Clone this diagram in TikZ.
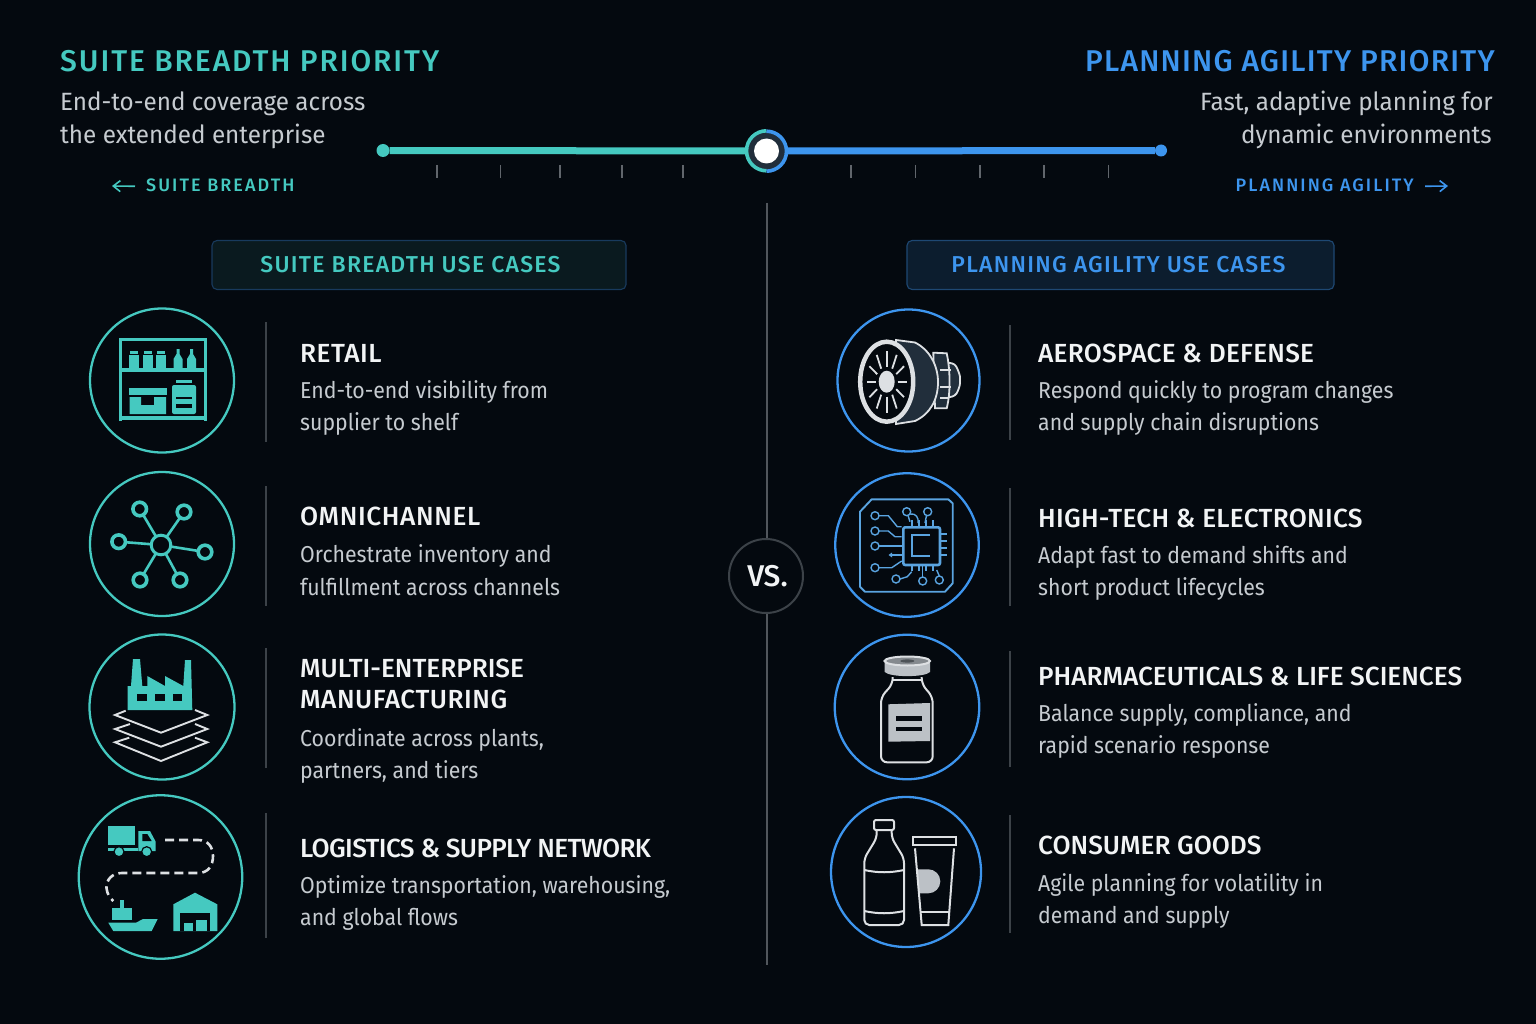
\documentclass[tikz,border=0pt]{standalone}
\usepackage{fontspec}
\setmainfont{Fira Sans}
\newfontfamily\headfont{Fira Sans Medium}
\newfontfamily\subfont[FakeStretch=0.97]{Fira Sans}
\newfontfamily\rowfont[FakeStretch=0.925]{Fira Sans}
\usetikzlibrary{arrows.meta}

\definecolor{bgdark}{HTML}{04090F}
\definecolor{tealc}{HTML}{45C9C0}
\definecolor{bluec}{HTML}{3D95EE}
\definecolor{chipblue}{HTML}{5AA4E0}
\definecolor{bodygrey}{HTML}{C6CBD0}
\definecolor{titlewhite}{HTML}{F2F4F5}
\definecolor{linegrey}{HTML}{3C4248}
\definecolor{divgrey}{HTML}{51565C}
\definecolor{tickgrey}{HTML}{61666C}
\definecolor{iconwhite}{HTML}{DDE0E3}
\definecolor{icongrey}{HTML}{BCC1C6}
\definecolor{enginedark}{HTML}{212E3B}

\tikzset{
    tealring/.style={draw=tealc, line width=2.3pt, circle, inner sep=0pt},
    bluering/.style={draw=bluec, line width=2.3pt, circle, inner sep=0pt},
    sepline/.style={draw=linegrey, line width=1.6pt},
    headline/.style={anchor=base west, inner sep=0pt, font=\headfont\fontsize{30}{36}\selectfont\addfontfeatures{LetterSpace=4.2}},
    subtext/.style={inner sep=0pt, text=bodygrey, font=\subfont\fontsize{25}{33}\selectfont},
    rowtitle/.style={anchor=base west, inner sep=0pt, text=titlewhite, font=\headfont\fontsize{26.2}{31}\selectfont},
    rowtext/.style={anchor=west, align=left, inner sep=0pt, text=bodygrey, font=\rowfont\fontsize{23}{32.5}\selectfont},
    smalllabel/.style={inner sep=0pt, font=\headfont\fontsize{18}{22}\selectfont\addfontfeatures{LetterSpace=11.5}},
    banner/.style={rounded corners=5pt, line width=1.1pt, minimum height=49pt, inner sep=0pt, font=\headfont\fontsize{23}{28}\selectfont\addfontfeatures{LetterSpace=5.5}},
    tickline/.style={draw=tickgrey, line width=1.5pt},
    enddot/.style={circle, inner sep=0pt, minimum size=13pt},
    pinline/.style={draw=chipblue, line width=1.4pt},
}

\begin{document}
\begin{tikzpicture}[x=1pt, y=-1pt]
    \useasboundingbox (0,0) rectangle (1536,1024);
    \fill[bgdark] (0,0) rectangle (1536,1024);

    % header left
    \node[headline, text=tealc] (lefthead) at (60,72) {\addfontfeatures{LetterSpace=6.4}SUITE BREADTH PRIORITY};
    \node[subtext, anchor=base west] (leftsub1) at (60,111) {End-to-end coverage across};
    \node[subtext, anchor=base west] (leftsub2) at (60,144) {the extended enterprise};
    \node[smalllabel, text=tealc, anchor=base west] (leftlabel) at (146,192) {SUITE BREADTH};
    \coordinate (lefttip) at (112,186);
    \draw[tealc, line width=1.6pt, -{Straight Barb[length=7pt,width=11pt]}] ([xshift=-11pt,yshift=-0.5pt]leftlabel.west) -- (lefttip);

    % header right
    \node[headline, text=bluec, anchor=base east] (righthead) at (1495,72) {PLANNING AGILITY PRIORITY};
    \node[subtext, anchor=base east] (rightsub1) at (1493,111) {Fast, adaptive planning for};
    \node[subtext, anchor=base east] (rightsub2) at (1492,144) {dynamic environments};
    \node[smalllabel, text=bluec, anchor=base east] (rightlabel) at (1414,192) {PLANNING AGILITY};
    \coordinate (righttip) at (1448,186);
    \draw[bluec, line width=1.6pt, -{Straight Barb[length=7pt,width=11pt]}] ([xshift=11pt,yshift=-0.5pt]rightlabel.east) -- (righttip);

    % slider
    \node[enddot, fill=tealc] (leftdot) at (383,150.5) {};
    \node[enddot, fill=bluec, minimum size=12pt] (rightdot) at (1161,150.5) {};
    \node[circle, fill=enginedark, inner sep=0pt, minimum size=40pt] (knob) at (766.5,151) {};
    \draw[tealc, line width=7pt] (leftdot) -- (knob);
    \draw[bluec, line width=7pt] (knob) -- (rightdot);
    \draw[tealc, line width=3.6pt] (knob.north) arc[start angle=90, end angle=270, radius=20pt];
    \draw[bluec, line width=3.6pt] (knob.south) arc[start angle=-90, end angle=90, radius=20pt];
    \fill[white] (knob) circle[radius=12.5pt];
    \foreach \tx in {437,500.5,560,622,683,851,915.5,980,1044,1108.5}
        \draw[tickline] (\tx,165) -- (\tx,178);

    % centre divider
    \node[circle, draw=linegrey, line width=2pt, minimum size=74pt, inner sep=0pt, text=titlewhite, font=\headfont\fontsize{30}{36}\selectfont] (vs) at (766,576) {\hspace{3pt}VS.};
    \coordinate (divtop) at (767,203);
    \coordinate (divbot) at (767,965);
    \draw[draw=divgrey, line width=2pt] (divtop) -- (divtop |- vs.north);
    \draw[draw=divgrey, line width=2pt] (divbot |- vs.south) -- (divbot);

    % banners
    \node[banner, draw=bluec!35!bgdark, fill=tealc!9!bgdark, text=tealc, minimum width=414pt] (leftbanner) at (419,265) {\raisebox{-1.5pt}{SUITE BREADTH USE CASES}\hspace{17pt}\null};
    \node[banner, draw=bluec!45!bgdark, fill=bluec!14!bgdark, text=bluec, minimum width=427pt] (rightbanner) at (1120.5,265) {\raisebox{-1.5pt}{PLANNING AGILITY USE CASES}\hspace{4pt}\null};

    % left rings
    \node[tealring, minimum size=144pt] (retail) at (162,380.5) {};
    \node[tealring, minimum size=144pt] (omni) at (162,544) {};
    \node[tealring, minimum size=145pt] (multi) at (162,707) {};
    \node[tealring, minimum size=163.5pt] (logistics) at (160.5,877) {};

    % right rings
    \node[bluering, minimum size=142pt] (aero) at (908.5,380.5) {};
    \node[bluering, minimum size=143.5pt] (hitech) at (907,545) {};
    \node[bluering, minimum size=144.5pt] (pharma) at (907,707) {};
    \node[bluering, minimum size=150pt] (consumer) at (906,872) {};

    % row separators
    \draw[sepline] (266,322) -- (266,442);
    \draw[sepline] (266,486) -- (266,606);
    \draw[sepline] (266,648) -- (266,768);
    \draw[sepline] (266,813) -- (266,938);
    \draw[sepline] (1010,325) -- (1010,440);
    \draw[sepline] (1010,488) -- (1010,606);
    \draw[sepline] (1010,651) -- (1010,767);
    \draw[sepline] (1010,815) -- (1010,933);

    % left rows
    \node[rowtitle] (retailhead) at (300,362) {\addfontfeatures{LetterSpace=2}RETAIL};
    \node[rowtext] (retailtext) at (300,408) {End-to-end visibility from\\supplier to shelf};
    \node[rowtitle] (omnihead) at (300,525) {\addfontfeatures{LetterSpace=2.4}OMNICHANNEL};
    \node[rowtext] (omnitext) at (300,570) {Orchestrate inventory and\\fulfillment across channels};
    \node[rowtitle] (multihead1) at (300,677) {MULTI-ENTERPRISE};
    \node[rowtitle] (multihead2) at (300,708) {\addfontfeatures{LetterSpace=2}MANUFACTURING};
    \node[rowtext] (multitext) at (300,756) {Coordinate across plants,\\partners, and tiers};
    \node[rowtitle] (logihead) at (300,857) {\addfontfeatures{LetterSpace=-2.5}LOGISTICS \& SUPPLY NETWORK};
    \node[rowtext] (logitext) at (300,903) {Optimize transportation, warehousing,\\and global flows};

    % right rows
    \node[rowtitle] (aerohead) at (1038,362) {\addfontfeatures{LetterSpace=1}AEROSPACE \& DEFENSE};
    \node[rowtext] (aerotext) at (1038,408) {Respond quickly to program changes\\and supply chain disruptions};
    \node[rowtitle] (hitechhead) at (1038,527) {\addfontfeatures{LetterSpace=1}HIGH-TECH \& ELECTRONICS};
    \node[rowtext] (hitechtext) at (1038,573) {Adapt fast to demand shifts and\\short product lifecycles};
    \node[rowtitle] (pharmahead) at (1038,685) {PHARMACEUTICALS \& LIFE SCIENCES};
    \node[rowtext] (pharmatext) at (1038,731) {Balance supply, compliance, and\\rapid scenario response};
    \node[rowtitle] (consumerhead) at (1038,854) {CONSUMER GOODS};
    \node[rowtext] (consumertext) at (1038,901) {Agile planning for volatility in\\demand and supply};

    % retail icon
    \draw[tealc, line width=3.2pt] (120.5,421) -- (120.5,339.5) -- (205.5,339.5) -- (205.5,421);
    \draw[tealc, line width=3.2pt] (120.5,370) -- (205.5,370);
    \draw[tealc, line width=3.2pt] (120.5,418) -- (205.5,418);
    \foreach \jx in {134,147.5,161} {
        \fill[tealc] (\jx-5,355) rectangle (\jx+5,369);
        \fill[tealc] (\jx-4,351) rectangle (\jx+4,354);
    }
    \foreach \bx in {178,191.5}
        \fill[tealc] (\bx-4.5,369) -- (\bx-4.5,359) -- (\bx-1.5,354) -- (\bx-1.5,349) -- (\bx+1.5,349) -- (\bx+1.5,354) -- (\bx+4.5,359) -- (\bx+4.5,369) -- cycle;
    \fill[tealc] (128.5,388) rectangle (167,395);
    \fill[tealc] (129.5,397) -- (141,397) -- (141,405) -- (154,405) -- (154,397) -- (166,397) -- (166,414) -- (129.5,414) -- cycle;
    \fill[tealc] (176,380) rectangle (192,383);
    \fill[tealc, rounded corners=2pt] (172,385) rectangle (196,414);
    \fill[bgdark] (176,397) rectangle (192,399);
    \fill[bgdark] (176,404) rectangle (192,407.5);

    % omnichannel icon
    \coordinate (hub) at (161,545);
    \foreach \sx/\sy in {139.7/509,184/512,118.7/541.7,205/552,140/580,180/580} {
        \draw[tealc, line width=2.6pt] (hub) -- (\sx,\sy);
        \filldraw[fill=bgdark, draw=tealc, line width=3.6pt] (\sx,\sy) circle[radius=6.8pt];
    }
    \filldraw[fill=bgdark, draw=tealc, line width=3pt] (hub) circle[radius=9.8pt];

    % manufacturing icon
    \fill[tealc] (127.7,710) -- (127.7,686) -- (131,686) -- (133,659) -- (140,659) -- (142.3,686) -- (147.3,686) -- (147.3,676) -- (165,686) -- (165,676) -- (183.3,686) -- (185,660) -- (191,660) -- (192.3,710) -- cycle;
    \fill[bgdark] (137.3,693.7) rectangle (146.7,701);
    \fill[bgdark] (155,693.7) rectangle (165,701);
    \fill[bgdark] (172.7,693.7) rectangle (182.3,701);
    \draw[iconwhite, line width=1.9pt] (125.7,710.7) -- (115,715) -- (161,732.7) -- (207.3,715) -- (195,710);
    \draw[iconwhite, line width=1.9pt] (130,724) -- (115,729) -- (161,746.7) -- (207.3,729) -- (195,724);
    \draw[iconwhite, line width=1.9pt] (129.3,737.7) -- (115,742.3) -- (161,761) -- (207.3,742.3) -- (195,737.7);

    % logistics icon
    \fill[tealc] (108.3,825.7) rectangle (135,845);
    \fill[tealc] (108.3,847.7) rectangle (138,851);
    \fill[tealc] (138.3,831) -- (150,831) -- (155.7,841.7) -- (155.7,851) -- (138.3,851) -- cycle;
    \fill[bgdark] (142.3,834) -- (147.3,834) -- (151.7,841) -- (142.3,841) -- cycle;
    \filldraw[fill=tealc, draw=bgdark, line width=1.2pt] (119,851.7) circle[radius=5pt];
    \filldraw[fill=tealc, draw=bgdark, line width=1.2pt] (146.7,851.7) circle[radius=5pt];
    \draw[iconwhite, line width=2.6pt, dash pattern=on 9pt off 5pt] (165,840) -- (198,840) .. controls (208,840) and (213,847) .. (213,856) .. controls (213,866) and (208,873) .. (198,873) -- (122,873) .. controls (112,873) and (106,880) .. (106.5,888) .. controls (107,894) and (110,898) .. (113.3,901);
    \fill[tealc] (120,900) rectangle (124,908);
    \fill[tealc] (112.3,908) rectangle (131.7,920);
    \fill[tealc] (108.3,922.7) -- (136,922.7) -- (143,919) -- (157.7,919) -- (151.7,931) -- (113.3,931) -- cycle;
    \fill[tealc] (173.3,931) -- (173.3,904.3) -- (195,892.7) -- (217.3,904.3) -- (217.3,931) -- cycle;
    \fill[bgdark] (180,913) rectangle (210,931);
    \fill[tealc] (184,922.7) rectangle (193.3,931);
    \fill[tealc] (196,920) rectangle (206.7,931);

    % engine icon
    \filldraw[fill=enginedark, draw=iconwhite, line width=1.8pt, rounded corners=3pt] (945,362) -- (955,364) .. controls (959,372) and (960,376) .. (960,380) .. controls (960,386) and (958,391) .. (955,396) -- (945,398) -- cycle;
    \filldraw[fill=enginedark, draw=iconwhite, line width=1.8pt] (933.3,352.7) -- (946.7,353.3) .. controls (950,368) and (951,392) .. (946.7,408.3) -- (935,408.3) -- cycle;
    \draw[iconwhite, line width=2pt] (940,370) -- (951,370);
    \draw[iconwhite, line width=2pt] (940,386.7) -- (951,386.7);
    \draw[iconwhite, line width=2pt] (940,397.7) -- (949,397.7);
    \filldraw[fill=enginedark, draw=iconwhite, line width=1.8pt] (896,340) -- (915,342.5) .. controls (930,350) and (938,366) .. (938,382) .. controls (938,400) and (930,414) .. (915,421) -- (896,424) -- cycle;
    \filldraw[fill=bgdark, draw=iconwhite, line width=4.5pt] (886.7,381.7) ellipse[x radius=26.5pt, y radius=40pt];
    \foreach \ang in {0,30,...,330}
        \draw[iconwhite, line width=1.8pt] ({886.7+11*cos(\ang)},{381.7+15*sin(\ang)}) -- ({886.7+20*cos(\ang)},{381.7+31*sin(\ang)});
    \fill[iconwhite] (886.7,381.7) ellipse[x radius=8pt, y radius=11pt];

    % chip icon
    \draw[chipblue, line width=1.9pt, line join=round] (871.7,499.3) -- (948.3,499.3) -- (952.7,503.3) -- (952.7,583.3) -- (945,591.7) -- (865,591.7) -- (860,586.7) -- (860,511.7) -- cycle;
    \draw[chipblue, line width=2.6pt, rounded corners=2pt] (903.3,527.3) rectangle (940,565);
    \draw[chipblue, line width=2pt] (930,535.3) -- (911.7,535.3) -- (911.7,556) -- (930,556);
    \foreach \px in {912,919,926,933} {
        \draw[pinline] (\px,520) -- (\px,527);
        \draw[pinline] (\px,565) -- (\px,571);
    }
    \foreach \py in {534,541,548,555} \draw[pinline] (940,\py) -- (947,\py);
    \foreach \cx/\cy in {875/515.7,875/531,875/546,875/567.7,896/579,922.7/581,939.3/580,906.7/511.7,927.7/511.7}
        \draw[pinline] (\cx,\cy) circle[radius=4pt];
    \draw[pinline] (879,515.7) -- (888.3,515.7) -- (897.3,526.7) -- (901.7,526.7);
    \draw[pinline] (879,531) -- (888.3,531) -- (895,536.7) -- (901.7,536.7);
    \draw[pinline] (879,546) -- (901.7,546);
    \draw[pinline] (891.7,555) -- (901.7,555);
    \draw[pinline] (879,567.7) -- (891.7,567.7) -- (901.7,561);
    \draw[pinline] (900,579) -- (907.3,576.7) -- (911.7,571.7);
    \draw[pinline] (922.7,577) -- (922.7,566);
    \draw[pinline] (939.3,576) -- (936.7,570);
    \draw[pinline] (908,515.5) -- (910,521.7);
    \draw[pinline] (910,514) .. controls (916,513) and (919,518) .. (918,523);
    \draw[pinline] (926.5,515.5) -- (925,523);
    \fill[chipblue] (888.5,555) -- (892,552.5) -- (892,557.5) -- cycle;

    % vial icon
    \draw[iconwhite, line width=2pt, rounded corners=6pt] (892.7,677) -- (892.7,684) -- (881,697) -- (881,762.3) -- (932.7,762.3) -- (932.7,697) -- (921.7,684) -- (921.7,677);
    \draw[iconwhite, line width=2pt] (892.7,680) -- (921.7,680);
    \fill[icongrey] (888.3,704.3) -- (930,703) -- (930,741) -- (888.3,741.7) -- cycle;
    \fill[bgdark] (896,715.7) rectangle (921.7,721);
    \fill[bgdark] (896,726.7) rectangle (921.7,731);
    \fill[icongrey] (884.7,661) -- (884.7,672) .. controls (890,677.5) and (925,677.5) .. (930,672) -- (930,661) -- cycle;
    \filldraw[fill=icongrey!70!bgdark, draw=iconwhite, line width=2pt] (907.3,661) ellipse[x radius=22.7pt, y radius=4.5pt];
    \fill[bgdark!60!icongrey] (907.3,661) ellipse[x radius=7pt, y radius=1.6pt];

    % bottle and tube icon
    \draw[iconwhite, line width=2pt, rounded corners=2pt] (874,820) rectangle (894,830);
    \draw[iconwhite, line width=2pt, rounded corners=5pt] (876.7,830) -- (876.7,838) -- (864.3,858.3) -- (864.3,925) -- (904,925) -- (904,858.3) -- (891.7,838) -- (891.7,830);
    \draw[iconwhite, line width=2pt] (864.3,870) .. controls (878,873) and (890,873) .. (904,870);
    \draw[iconwhite, line width=2pt] (864.3,911) .. controls (878,914) and (890,914) .. (904,911);
    \draw[iconwhite, line width=2pt] (912.7,836.7) rectangle (956,845);
    \fill[icongrey] (917,869.3) -- (928.3,869.3) arc[start angle=90, end angle=-90, radius=12pt] -- (919.5,893.3) -- cycle;
    \draw[iconwhite, line width=2pt] (915,848.3) -- (921.7,925) -- (948.3,925) -- (954,848.3);
    \draw[iconwhite, line width=2pt] (920.5,912.3) -- (949.3,912.3);
\end{tikzpicture}
\end{document}
